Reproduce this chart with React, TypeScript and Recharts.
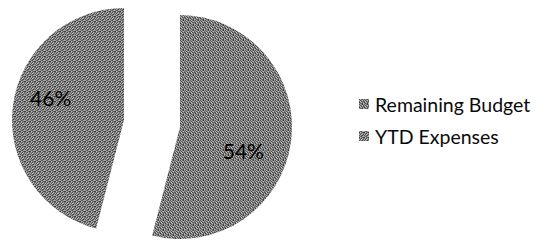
import { PieChart, Pie, Cell } from 'recharts';

// Budget split
const labels = ['Remaining Budget', 'YTD Expenses'];
const values = [54, 46];

// where each exploded slice sits (slice offsets along its bisector)
const CENTERS = [
  { cx: 180, cy: 127 },
  { cx: 124, cy: 120 },
];
const RADIUS = 112;
const FILLS = ['url(#grainA)', 'url(#grainB)'];
const FONT = 'Lato, "Open Sans", sans-serif';

// grey levels for the scanned-looking grain tile (style only)
const GRAIN = [
  [90, 170, 120, 60, 150],
  [160, 80, 140, 190, 100],
  [110, 200, 70, 130, 85],
  [60, 140, 175, 100, 160],
  [150, 95, 115, 65, 180],
];

const data = labels.map((name, i) => ({ name, value: values[i] }));
const total = values.reduce((s, v) => s + v, 0);

const RAD = Math.PI / 180;

function Grain({ id, flip }: { id: string; flip: boolean }) {
  return (
    <pattern id={id} width={5} height={5} patternUnits="userSpaceOnUse">
      {GRAIN.map((row, y) =>
        row.map((g, x) => {
          const v = flip ? GRAIN[x][4 - y] : g;
          return <rect key={`${x}-${y}`} x={x} y={y} width={1} height={1} fill={`rgb(${v},${v},${v})`} />;
        })
      )}
    </pattern>
  );
}

// label only the slice this Pie actually shows
function makeLabel(show: number) {
  return (props: any) => {
    const { cx, cy, midAngle, outerRadius, index, value } = props;
    if (index !== show) return null;
    const r = outerRadius * 0.66;
    const x = cx + r * Math.cos(-midAngle * RAD) + (index === 0 ? -10 : 0);
    const y = cy + r * Math.sin(-midAngle * RAD) + (index === 0 ? 14 : -13);
    return (
      <text x={x} y={y} textAnchor="middle" dominantBaseline="central"
        fill="#000" fontSize={21} fontFamily={FONT}>
        {`${Math.round((value / total) * 100)}%`}
      </text>
    );
  };
}

function LegendBox() {
  return (
    <div style={{ position: 'absolute', left: 359, top: 88, fontFamily: FONT, fontSize: 19.5, color: '#0a0a0a' }}>
      {labels.map((l, i) => (
        <div key={l} style={{ display: 'flex', alignItems: 'center', height: 32 }}>
          <svg width={10} height={10} style={{ marginRight: 6 }}>
            <rect width={10} height={10} fill={FILLS[i]} />
          </svg>
          {l}
        </div>
      ))}
    </div>
  );
}

export default function App() {
  return (
    <div style={{ position: 'absolute', left: 0, top: 0, width: 550, height: 241, background: '#fff' }}>
      <PieChart width={550} height={241} margin={{ top: 0, right: 0, bottom: 0, left: 0 }}>
        <defs>
          <Grain id="grainA" flip={false} />
          <Grain id="grainB" flip={true} />
        </defs>
        {CENTERS.map((c, k) => (
          <Pie
            key={k}
            data={data}
            dataKey="value"
            nameKey="name"
            cx={c.cx}
            cy={c.cy}
            outerRadius={RADIUS}
            startAngle={90}
            endAngle={-270}
            stroke="none"
            labelLine={false}
            label={makeLabel(k)}
            isAnimationActive={false}
          >
            {data.map((d, i) => (
              <Cell key={d.name} fill={i === k ? FILLS[i] : 'transparent'} stroke="none" />
            ))}
          </Pie>
        ))}
      </PieChart>
      <LegendBox />
    </div>
  );
}
